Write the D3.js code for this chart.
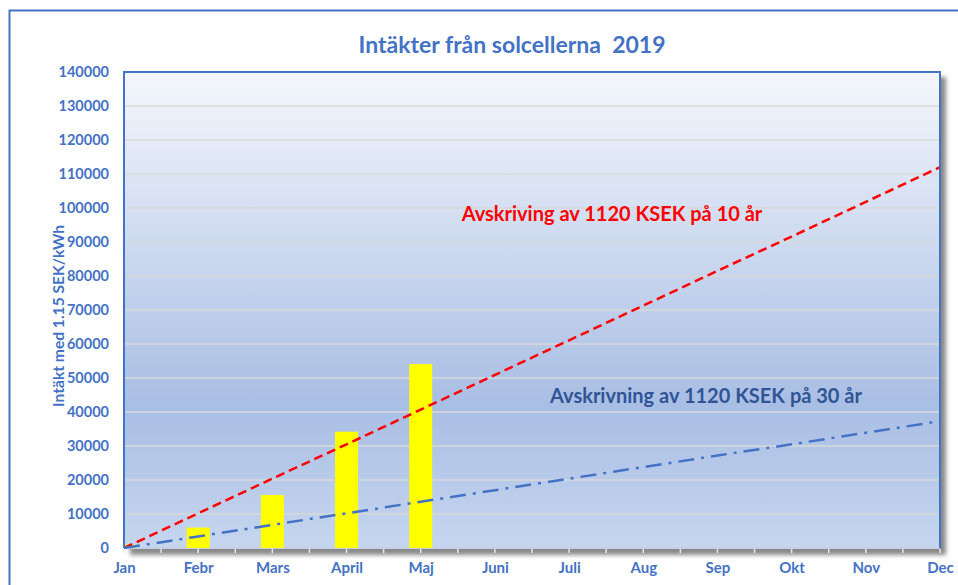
<!DOCTYPE html>
<html>
<head>
<meta charset="utf-8">
<script src="https://cdn.jsdelivr.net/npm/d3@7"></script>
<style>
  body { margin: 0; background: #fff; }
  svg text { font-family: Lato, "Open Sans", sans-serif; font-weight: bold; white-space: pre; }
</style>
</head>
<body>
<div id="chart-container"></div>
<script>
const months = ["Jan", "Febr", "Mars", "April", "Maj", "Juni", "Juli", "Aug", "Sep", "Okt", "Nov", "Dec"];
const income = [1000, 6000, 15600, 34200, 54100, null, null, null, null, null, null, null];
const depr10 = [0, 10200, 20400, 30500, 40700, 50900, 61100, 71300, 81500, 91600, 101800, 112000];
const depr30 = [0, 3400, 6800, 10200, 13600, 17000, 20400, 23800, 27200, 30500, 33900, 37300];
const yTicks = [0, 10000, 20000, 30000, 40000, 50000, 60000, 70000, 80000, 90000, 100000, 110000, 120000, 130000, 140000];

const svgWidth = 958, svgHeight = 585;
const margin = { top: 72, right: 18, bottom: 37, left: 124 };
const width = svgWidth - margin.left - margin.right;
const height = svgHeight - margin.top - margin.bottom;
const blue = "#4472c4";

const svg = d3.select("#chart-container").append("svg")
    .attr("width", svgWidth)
    .attr("height", svgHeight);

const defs = svg.append("defs");
const grad = defs.append("linearGradient").attr("id", "bg").attr("x1", 0).attr("y1", 0).attr("x2", 0).attr("y2", 1);
grad.append("stop").attr("offset", "0%").attr("stop-color", "#f4f7fc");
grad.append("stop").attr("offset", "70%").attr("stop-color", "#a9bee4");
grad.append("stop").attr("offset", "100%").attr("stop-color", "#c6d6ef");
defs.append("filter").attr("id", "blur").append("feGaussianBlur").attr("stdDeviation", 2);
defs.append("clipPath").attr("id", "plotclip").append("rect").attr("width", width).attr("height", height);

// outer frame
svg.append("rect").attr("x", 9.5).attr("y", 10.5).attr("width", 1000).attr("height", 1000)
    .attr("fill", "none").attr("stroke", blue).attr("stroke-width", 2);

svg.append("text")
    .attr("x", 512).attr("y", 53)
    .attr("text-anchor", "middle")
    .attr("font-size", "23px")
    .attr("fill", blue)
    .text("Intäkter från solcellerna  2019");

const chart = svg.append("g").attr("transform", `translate(${margin.left},${margin.top})`);

const x = d3.scalePoint().domain(months).range([0, width]);
const y = d3.scaleLinear().domain([0, 140000]).range([height, 0]);

// shadow + background
chart.append("rect").attr("x", 6).attr("y", 5).attr("width", width).attr("height", height + 2)
    .attr("fill", "#8a8a8a").attr("filter", "url(#blur)");
chart.append("rect").attr("width", width).attr("height", height).attr("fill", "url(#bg)");

// gridlines
chart.append("g").selectAll("line").data(yTicks.filter(d => d > 0)).join("line")
    .attr("x1", 0).attr("x2", width)
    .attr("y1", d => y(d)).attr("y2", d => y(d))
    .attr("stroke", "#d9d9d9").attr("stroke-width", 1.5);

chart.append("line").attr("x1", 0).attr("x2", width).attr("y1", height).attr("y2", height)
    .attr("stroke", "#c5d0e4").attr("stroke-width", 2);

// bars
const step = x.step();
chart.append("g").attr("clip-path", "url(#plotclip)")
    .selectAll("rect").data(months.map((m, i) => ({ m, v: income[i] })).filter(d => d.v != null)).join("rect")
    .attr("x", d => x(d.m) - 11.5)
    .attr("width", 23)
    .attr("y", d => y(d.v))
    .attr("height", d => height - y(d.v))
    .attr("fill", "#ffff00");

const line = d3.line().x((d, i) => x(months[i])).y(d => y(d));

chart.append("path").datum(depr10).attr("d", line)
    .attr("fill", "none").attr("stroke", "#ff0000").attr("stroke-width", 2.5)
    .attr("stroke-dasharray", "9,5");

chart.append("path").datum(depr30).attr("d", line)
    .attr("fill", "none").attr("stroke", blue).attr("stroke-width", 2.5)
    .attr("stroke-dasharray", "16,7,3,7");

// borders
chart.append("path").attr("d", `M0,${height}V0H${width}V${height}`)
    .attr("fill", "none").attr("stroke", blue).attr("stroke-width", 2);

// x ticks at half steps
const tickPos = d3.range(0, 23).map(i => i * step / 2);
chart.append("g").selectAll("line").data(tickPos).join("line")
    .attr("x1", d => d).attr("x2", d => d)
    .attr("y1", height + 1).attr("y2", height + 5)
    .attr("stroke", "#e3e8f1").attr("stroke-width", 1.5);

// axes
const yAxis = chart.append("g")
    .call(d3.axisLeft(y).tickValues(yTicks).tickSize(0).tickPadding(15).tickFormat(d3.format("d")));
yAxis.select(".domain").remove();
yAxis.selectAll("text").attr("fill", blue).attr("font-size", "14.5px").style("font-weight", "bold");

const xAxis = chart.append("g").attr("transform", `translate(0,${height})`)
    .call(d3.axisBottom(x).tickSize(0).tickPadding(14));
xAxis.select(".domain").remove();
xAxis.selectAll("text").attr("fill", blue).attr("font-size", "15px").style("font-weight", "bold");

chart.append("text")
    .attr("transform", "rotate(-90)")
    .attr("x", -(316 - margin.top)).attr("y", -60)
    .attr("text-anchor", "middle")
    .attr("font-size", "15.6px")
    .attr("fill", blue)
    .text("Intäkt med 1.15 SEK/kWh");

chart.append("text")
    .attr("x", 612 - margin.left).attr("y", 221 - margin.top)
    .attr("text-anchor", "middle")
    .attr("font-size", "20px")
    .attr("fill", "#ff0000")
    .text("Avskriving av 1120 KSEK på 10 år");

chart.append("text")
    .attr("x", 706 - margin.left).attr("y", 403 - margin.top)
    .attr("text-anchor", "middle")
    .attr("font-size", "20px")
    .attr("fill", "#2f5597")
    .text("Avskrivning av 1120 KSEK på 30 år");
</script>
</body>
</html>
